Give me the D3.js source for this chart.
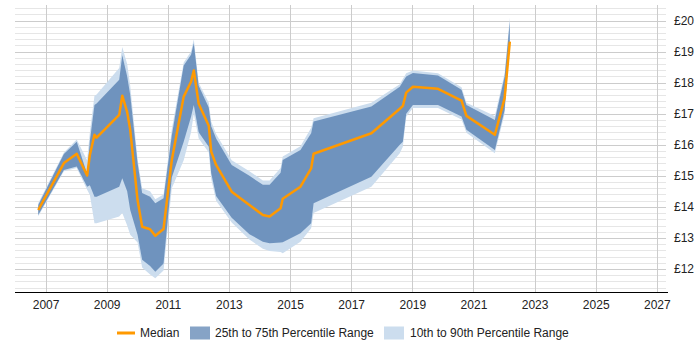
<!DOCTYPE html>
<html>
<head>
<meta charset="utf-8">
<script src="https://cdn.jsdelivr.net/npm/d3@7"></script>
<style>
  body { margin: 0; background: #fff; }
  text { font-family: "Liberation Sans", Arial, sans-serif; }
</style>
</head>
<body>
<div id="container"></div>
<script>
const width = 700,
  height = 350,
  margin = { top: 5, bottom: 58, left: 15, right: 34 };

/* DATA */
const years = [2006.76, 2007.60, 2008.02, 2008.36, 2008.45, 2008.60, 2008.67, 2009.41, 2009.51, 2009.67,
  2009.77, 2010.01, 2010.16, 2010.42, 2010.59, 2010.86, 2011.13, 2011.52, 2011.76, 2011.85,
  2012.01, 2012.34, 2012.42, 2012.58, 2013.09, 2013.67, 2014.11, 2014.33, 2014.69, 2014.76,
  2015.34, 2015.69, 2015.77, 2017.66, 2018.59, 2018.69, 2018.80, 2019.02, 2019.84, 2020.61,
  2020.77, 2021.70, 2022.02, 2022.19];
const p10 = [13.70, 15.15, 15.25, 14.55, 14.38, 13.47, 13.47, 13.69, 13.80, 13.40,
  13.10, 12.85, 12.05, 11.82, 11.70, 11.95, 14.60, 15.50, 16.40, 17.00,
  16.20, 15.75, 14.90, 14.20, 13.50, 12.95, 12.65, 12.58, 12.55, 12.51,
  12.88, 13.31, 13.80, 14.65, 15.73, 15.94, 16.90, 17.18, 17.18, 16.81,
  16.39, 15.73, 17.00, 19.25];
const p25 = [13.74, 15.19, 15.30, 14.65, 14.70, 14.33, 14.33, 14.65, 14.92, 14.50,
  13.90, 13.10, 12.30, 12.10, 11.91, 12.18, 14.95, 16.10, 16.90, 17.28,
  16.40, 15.94, 15.08, 14.35, 13.65, 13.12, 12.88, 12.83, 12.85, 12.86,
  13.15, 13.47, 14.12, 14.97, 16.00, 16.10, 17.00, 17.28, 17.28, 16.91,
  16.48, 15.83, 17.12, 19.30];
const median = [13.90, 15.41, 15.71, 15.01, 15.67, 16.32, 16.23, 16.96, 17.58, 17.05,
  16.48, 14.22, 13.36, 13.28, 13.07, 13.29, 15.51, 17.55, 18.03, 18.39,
  17.32, 16.61, 15.78, 15.35, 14.49, 14.06, 13.74, 13.69, 13.96, 14.26,
  14.65, 15.24, 15.71, 16.37, 17.16, 17.25, 17.68, 17.87, 17.80, 17.42,
  16.93, 16.32, 17.50, 19.32];
const p75 = [14.06, 15.70, 16.10, 15.06, 16.12, 17.28, 17.33, 18.09, 18.88, 18.20,
  17.60, 15.41, 14.45, 14.33, 14.12, 14.28, 16.30, 18.55, 18.90, 19.27,
  17.90, 17.20, 16.60, 16.20, 15.35, 15.00, 14.71, 14.71, 15.10, 15.51,
  15.83, 16.37, 16.75, 17.23, 17.87, 18.03, 18.20, 18.31, 18.23, 17.77,
  17.28, 16.80, 18.20, 19.97];
const p90 = [14.12, 15.75, 16.17, 15.50, 16.40, 17.58, 17.62, 18.47, 19.15, 18.60,
  17.90, 15.55, 14.60, 14.50, 14.25, 14.40, 16.50, 18.65, 19.00, 19.40,
  18.00, 17.35, 16.75, 16.35, 15.50, 15.15, 14.85, 14.85, 15.25, 15.62,
  15.95, 16.55, 16.85, 17.35, 17.95, 18.12, 18.30, 18.39, 18.30, 17.85,
  17.35, 16.93, 18.30, 20.10];

const xTicks = [2007, 2009, 2011, 2013, 2015, 2017, 2019, 2021, 2023, 2025, 2027];
const yTicks = [12, 13, 14, 15, 16, 17, 18, 19, 20];
const legendItems = ["Median", "25th to 75th Percentile Range", "10th to 90th Percentile Range"];

const data = years.map((y, i) => ({
  year: y, p10: p10[i], p25: p25[i], median: median[i], p75: p75[i], p90: p90[i]
}));

/* SCALES */
const xScale = d3.scaleLinear()
  .domain([2006.0, 2027.3])
  .range([margin.left, width - margin.right - 0]);

const yScale = d3.scaleLinear()
  .domain([11.26, 20.5])
  .range([height - margin.bottom, margin.top]);

/* SVG */
const svg = d3.select("#container")
  .append("svg")
  .attr("width", width)
  .attr("height", height);

// minor horizontal grid every 0.2
const minorTicks = d3.range(11.4, 20.5, 0.2);
svg.append("g")
  .selectAll("line")
  .data(minorTicks)
  .join("line")
  .attr("x1", margin.left)
  .attr("x2", width - margin.right)
  .attr("y1", d => Math.round(yScale(d)) + 0.5)
  .attr("y2", d => Math.round(yScale(d)) + 0.5)
  .attr("stroke", "#e6e6e6");

// major horizontal grid
svg.append("g")
  .selectAll("line")
  .data(yTicks)
  .join("line")
  .attr("x1", margin.left)
  .attr("x2", width - margin.right)
  .attr("y1", d => Math.round(yScale(d)) + 0.5)
  .attr("y2", d => Math.round(yScale(d)) + 0.5)
  .attr("stroke", "#cccccc");

// vertical grid
svg.append("g")
  .selectAll("line")
  .data(xTicks)
  .join("line")
  .attr("x1", d => Math.round(xScale(d)) + 0.5)
  .attr("x2", d => Math.round(xScale(d)) + 0.5)
  .attr("y1", margin.top)
  .attr("y2", height - margin.bottom)
  .attr("stroke", "#cccccc");

/* BANDS */
const area10 = d3.area()
  .x(d => xScale(d.year))
  .y0(d => yScale(d.p10))
  .y1(d => yScale(d.p90));

const area25 = d3.area()
  .x(d => xScale(d.year))
  .y0(d => yScale(d.p25))
  .y1(d => yScale(d.p75));

svg.append("path")
  .datum(data)
  .attr("d", area10)
  .attr("fill", "#ccddee");

svg.append("path")
  .datum(data)
  .attr("d", area25)
  .attr("fill", "rgb(31,85,149)")
  .attr("fill-opacity", 0.54);

const line = d3.line()
  .x(d => xScale(d.year))
  .y(d => yScale(d.median));

svg.append("path")
  .datum(data)
  .attr("d", line)
  .attr("fill", "none")
  .attr("stroke", "#ff9900")
  .attr("stroke-width", 2.5)
  .attr("stroke-linejoin", "round");

/* AXES */
const xAxis = d3.axisBottom(xScale)
  .tickValues(xTicks)
  .tickFormat(d3.format("d"))
  .tickSize(0)
  .tickPadding(8);

svg.append("g")
  .attr("transform", `translate(0, ${height - margin.bottom + 0.5})`)
  .call(xAxis)
  .call(g => g.select(".domain").attr("stroke", "#000").attr("d", `M${margin.left},0H${width - margin.right + 2}`))
  .call(g => g.selectAll("text").attr("font-size", 12).attr("fill", "#222"));

const yAxis = d3.axisRight(yScale)
  .tickValues(yTicks)
  .tickFormat(d => "£" + d)
  .tickSize(0)
  .tickPadding(8);

svg.append("g")
  .attr("transform", `translate(${width - margin.right}, 0)`)
  .call(yAxis)
  .call(g => g.select(".domain").remove())
  .call(g => g.selectAll("text").attr("font-size", 12).attr("fill", "#222"));

/* LEGEND */
const legend = svg.append("g")
  .attr("transform", `translate(0, 333)`);

legend.append("line")
  .attr("x1", 117).attr("x2", 135)
  .attr("stroke", "#ff9900")
  .attr("stroke-width", 3);

legend.append("rect")
  .attr("x", 190).attr("y", -6.5)
  .attr("width", 20).attr("height", 13)
  .attr("fill", "rgb(31,85,149)")
  .attr("fill-opacity", 0.54);

legend.append("rect")
  .attr("x", 384).attr("y", -6.5)
  .attr("width", 20).attr("height", 13)
  .attr("fill", "#ccddee");

legend.selectAll("text")
  .data(legendItems)
  .join("text")
  .attr("x", (d, i) => [140, 215, 410][i])
  .attr("dy", "0.35em")
  .attr("font-size", 12)
  .attr("fill", "#222")
  .text(d => d);
</script>
</body>
</html>
